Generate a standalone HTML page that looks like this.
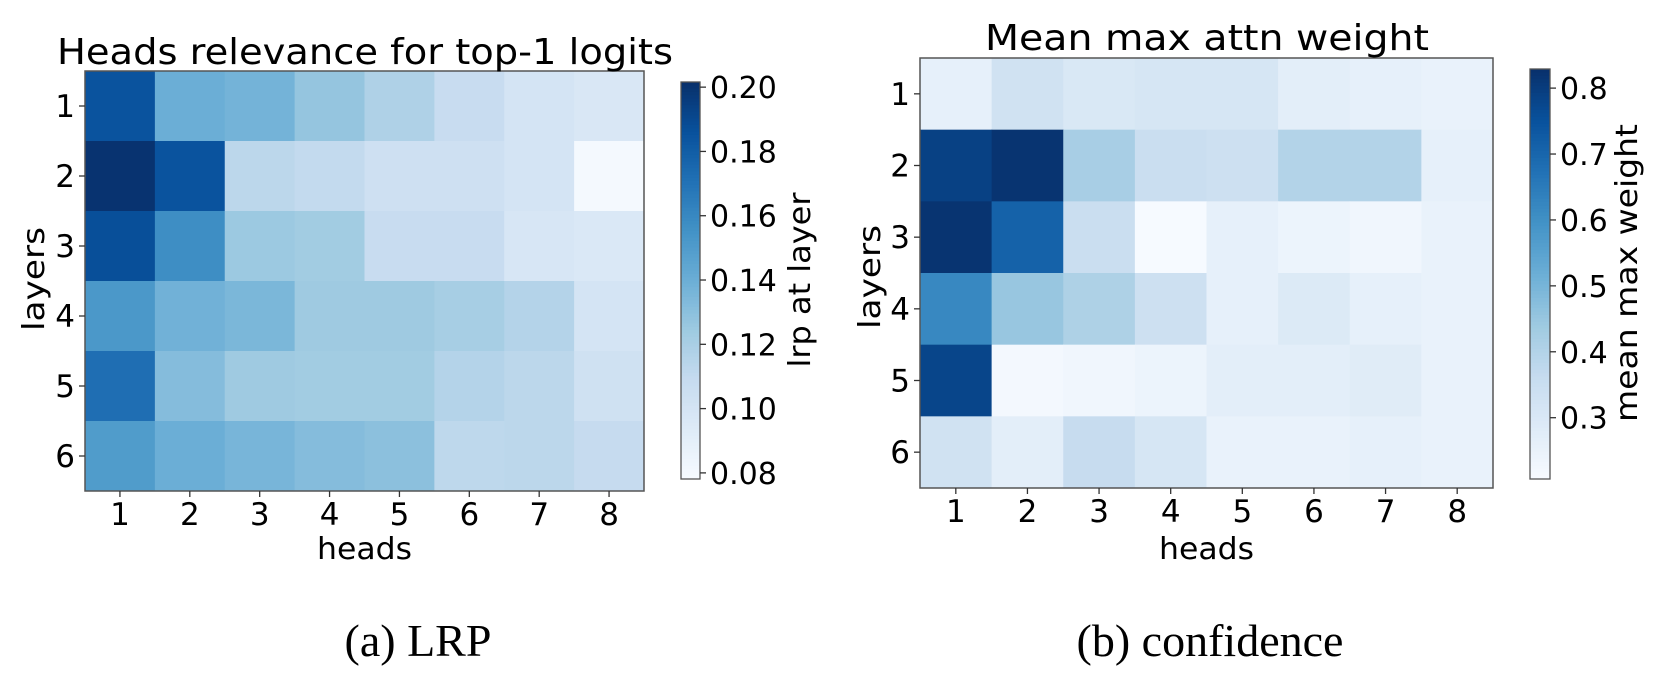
<!DOCTYPE html>
<html><head><meta charset="utf-8"><style>
html,body{margin:0;padding:0;background:#fff;}
svg{display:block;}
text{font-family:"DejaVu Sans","Liberation Sans",sans-serif;fill:#000;}
.cap{font-family:"Liberation Serif",serif;}
</style></head><body>
<svg id="fig" width="1668" height="680" viewBox="0 0 1668 680" xmlns="http://www.w3.org/2000/svg"></svg>
<script>
const heads = ["1","2","3","4","5","6","7","8"];
const layers = ["1","2","3","4","5","6"];
const lrpValues = [
 [0.185,0.140,0.137,0.127,0.118,0.108,0.100,0.097],
 [0.200,0.185,0.113,0.110,0.104,0.104,0.100,0.080],
 [0.187,0.157,0.125,0.123,0.108,0.108,0.098,0.096],
 [0.152,0.138,0.135,0.124,0.124,0.121,0.116,0.100],
 [0.172,0.132,0.124,0.123,0.123,0.116,0.113,0.103],
 [0.150,0.140,0.136,0.132,0.130,0.112,0.113,0.109]
];
const confValues = [
 [0.26,0.33,0.30,0.31,0.31,0.27,0.26,0.25],
 [0.79,0.82,0.42,0.35,0.34,0.40,0.40,0.26],
 [0.82,0.71,0.35,0.21,0.26,0.24,0.23,0.25],
 [0.62,0.45,0.41,0.34,0.26,0.29,0.26,0.25],
 [0.78,0.22,0.23,0.24,0.27,0.27,0.28,0.25],
 [0.33,0.27,0.36,0.31,0.25,0.25,0.26,0.25]
];
const lrpTicks = [0.08,0.10,0.12,0.14,0.16,0.18,0.20];
const lrpTickLabels = ["0.08","0.10","0.12","0.14","0.16","0.18","0.20"];
const confTicks = [0.3,0.4,0.5,0.6,0.7,0.8];
const confTickLabels = ["0.3","0.4","0.5","0.6","0.7","0.8"];

const NS="http://www.w3.org/2000/svg";
const svg=document.getElementById('fig');
const blues=["#f7fbff","#deebf7","#c6dbef","#9ecae1","#6baed6","#4292c6","#2171b5","#08519c","#08306b"];
function hex(h){return [1,3,5].map(i=>parseInt(h.substr(i,2),16));}
function cmap(t){t=Math.max(0,Math.min(1,t));const p=t*8,i=Math.min(7,Math.floor(p)),f=p-i;
 const a=hex(blues[i]),b=hex(blues[i+1]);return 'rgb('+a.map((v,k)=>Math.round(v+(b[k]-v)*f)).join(',')+')';}
function el(tag,attrs,parent){const e=document.createElementNS(NS,tag);for(const k in attrs)e.setAttribute(k,attrs[k]);(parent||svg).appendChild(e);return e;}
function txt(s,attrs,parent){const e=el('text',attrs,parent);e.textContent=s;return e;}

function panel(o){
 const g=el('g',{});
 
 
 const cw=(o.x1-o.x0)/heads.length, ch=(o.y1-o.y0)/layers.length;
 const xc=i=>o.x0+cw*(i+0.5), yc=j=>o.y0+ch*(j+0.5);
 const norm=v=>(v-o.vmin)/(o.vmax-o.vmin);
 o.values.forEach((row,j)=>row.forEach((v,i)=>{
  const r=el('rect',{x:o.x0+cw*i,y:o.y0+ch*j,width:cw+0.5,height:ch+0.5,fill:cmap(norm(v))},g);
  
  
 }));
 const fr=el('rect',{x:o.x0,y:o.y0,width:o.x1-o.x0,height:o.y1-o.y0,fill:'none',stroke:'#555','stroke-width':1.5},g);
 
 
 heads.forEach((h,i)=>{
  el('line',{x1:xc(i),x2:xc(i),y1:o.y1,y2:o.y1+6,stroke:'#333','stroke-width':1.3},g);
  const t=txt(h,{x:xc(i),y:o.y1+34,'text-anchor':'middle','font-size':31},g);
  
  
 });
 layers.forEach((l,j)=>{
  el('line',{x1:o.x0-6,x2:o.x0,y1:yc(j),y2:yc(j),stroke:'#333','stroke-width':1.3},g);
  const t=txt(l,{x:o.x0-10,y:yc(j)+11,'text-anchor':'end','font-size':31},g);
  
  
 });
 const ti=txt(o.title,{x:o.titleX,y:o.titleY,'text-anchor':'middle','font-size':36,textLength:o.titleW,lengthAdjust:'spacingAndGlyphs'},g);
 
 
 const xl=txt('heads',{x:(o.x0+o.x1)/2,y:559,'text-anchor':'middle','font-size':30,textLength:95,lengthAdjust:'spacingAndGlyphs'},g);
 
 
 const yl=txt('layers',{x:0,y:0,'text-anchor':'middle','font-size':30,textLength:104,lengthAdjust:'spacingAndGlyphs',transform:'translate('+(o.ylx+10)+','+o.yly+') rotate(-90)'},g);
 
 
 const cb=o.cb; const cbv=y=>o.vmax-(y-cb.y0)/(cb.y1-cb.y0)*(o.vmax-o.vmin);
 const steps=120, sh=(cb.y1-cb.y0)/steps;
 for(let k=0;k<steps;k++){el('rect',{x:cb.x0,y:cb.y0+k*sh,width:cb.x1-cb.x0,height:sh+0.6,fill:cmap(norm(cbv(cb.y0+(k+0.5)*sh)))},g);}
 const cf=el('rect',{x:cb.x0,y:cb.y0,width:cb.x1-cb.x0,height:cb.y1-cb.y0,fill:'none',stroke:'#555','stroke-width':1.3},g);
 
 
 const ty=v=>cb.y0+(o.vmax-v)/(o.vmax-o.vmin)*(cb.y1-cb.y0);
 o.ticks.forEach((v,k)=>{
  el('line',{x1:cb.x1,x2:cb.x1+6,y1:ty(v),y2:ty(v),stroke:'#333','stroke-width':1.3},g);
  const t=txt(o.tickLabels[k],{x:cb.x1+10,y:ty(v)+11,'font-size':30},g);
  
  
 });
 const cl=txt(o.cbLabel,{x:0,y:0,'text-anchor':'middle','font-size':30,textLength:o.cbLabelW,lengthAdjust:'spacingAndGlyphs',transform:'translate('+(o.cbLabelX+10)+','+o.cbLabelY+') rotate(-90)'},g);
 
 
 const cp=txt(o.caption,{x:o.capX,y:656,'text-anchor':'middle','font-size':46,'class':'cap'},g);
 
 
}
panel({name:'lrp-heatmap',x0:85,x1:644,y0:71,y1:491,values:lrpValues,vmin:0.0781,vmax:0.2016,
 title:'Heads relevance for top-1 logits',titleX:365,titleY:64,titleW:616,ylx:34,yly:279,
 cb:{x0:681,x1:700,y0:82,y1:479},ticks:lrpTicks,tickLabels:lrpTickLabels,
 cbLabel:'lrp at layer',cbLabelW:175,cbLabelX:800,cbLabelY:280,caption:'(a) LRP',capX:418});
panel({name:'confidence-heatmap',x0:920,x1:1493,y0:58,y1:488,values:confValues,vmin:0.207,vmax:0.829,
 title:'Mean max attn weight',titleX:1207,titleY:50,titleW:444,ylx:870,yly:277,
 cb:{x0:1530,x1:1550,y0:69,y1:479},ticks:confTicks,tickLabels:confTickLabels,
 cbLabel:'mean max weight',cbLabelW:298,cbLabelX:1627,cbLabelY:273,caption:'(b) confidence',capX:1210});
</script>
</body></html>
